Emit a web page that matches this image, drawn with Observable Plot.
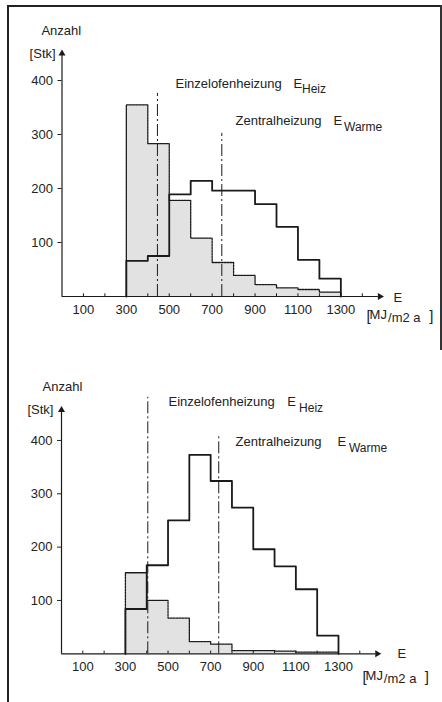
<!DOCTYPE html>
<html><head><meta charset="utf-8">
<script src="https://cdn.jsdelivr.net/npm/d3@7"></script>
<script src="https://cdn.jsdelivr.net/npm/@observablehq/plot@0.6"></script>
<style>
body{margin:0;background:#fff;}
#frame{position:absolute;left:7px;top:5px;width:436px;height:720px;border-left:2px solid #222;border-top:2px solid #222;box-sizing:border-box;}
#rside{position:absolute;left:440px;top:5px;width:2px;height:345px;background:#333;}
#top,#bottom{position:absolute;left:0;width:442px;height:351px;}
#top{top:0}#bottom{top:351px}
svg{overflow:visible}
</style></head><body>
<div id="frame"></div><div id="rside"></div>
<div id="top"></div><div id="bottom"></div>
<script>
// ---- data ----
const binStarts = [300, 400, 500, 600, 700, 800, 900, 1000, 1100, 1200];
const binWidth = 100;
// upper chart
const einzelTop   = [355, 283, 178, 108, 63, 39, 22, 16, 13, 8];
const zentralTop  = [66, 75, 189, 214, 196, 196, 171, 129, 68, 33];
// lower chart
const einzelBot   = [152, 100, 67, 23, 18, 6, 6, 5, 3, 3];
const zentralBot  = [84, 166, 250, 373, 324, 274, 196, 164, 121, 34];
// mean values (dash-dot lines)
const meanEinzel  = [445, 405];
const meanZentral = [745, 738];
const yTicks = [100, 200, 300, 400];
const xTickLabels = [100, 300, 500, 700, 900, 1100, 1300];
const xMinorTicks = [100, 200, 300, 400, 500, 600, 700, 800, 900, 1000, 1100, 1200, 1300, 1400];
const labelEinzel = "Einzelofenheizung";
const labelZentral = "Zentralheizung";
const subHeiz = "Heiz";
const subWarme = "Warme";

function steps(values) {
  const pts = [{x: binStarts[0], y: 0}];
  binStarts.forEach((s, i) => pts.push({x: s, y: values[i]}));
  pts.push({x: binStarts[binStarts.length - 1] + binWidth, y: 0});
  return pts;
}
function fillSteps(values) {
  const pts = binStarts.map((s, i) => ({x: s, y: values[i]}));
  pts.push({x: binStarts[binStarts.length - 1] + binWidth, y: values[values.length - 1]});
  return pts;
}
const ink = "#1a1a1a";
function txt(t, x, y, o = {}) {
  return Plot.text([t], {x: () => x, y: () => y, text: d => d, textAnchor: "start", lineAnchor: "bottom", fill: "#222", fontSize: o.fontSize || 13, ...o});
}

function chart(einzel, zentral, idx, L) {
  return Plot.plot({
    width: 442, height: 351,
    marginLeft: L.ml, marginRight: L.mr, marginTop: L.mt, marginBottom: L.mb,
    x: {domain: [0, 1500]},
    y: {domain: [0, 450]},
    style: {fontFamily: "'Liberation Sans', Arial, sans-serif", fontSize: "13px", color: "#222", background: "transparent", overflow: "visible"},
    marks: [
      Plot.areaY(fillSteps(einzel), {x: "x", y: "y", curve: "step-after", fill: "#e2e2e2"}),
      Plot.line(steps(einzel), {x: "x", y: "y", curve: "step-after", stroke: ink, strokeWidth: 1.3, strokeDasharray: "2,1"}),
      Plot.line(steps(zentral), {x: "x", y: "y", curve: "step-after", stroke: ink, strokeWidth: 1.8}),
      Plot.ruleX([meanEinzel[idx]], {y1: 0, y2: L.e1, stroke: ink, strokeWidth: 1, strokeDasharray: "12,3,2,3"}),
      Plot.ruleX([meanZentral[idx]], {y1: 0, y2: L.z1, stroke: ink, strokeWidth: 1, strokeDasharray: "12,3,2,3"}),
      // axes
      Plot.ruleY([0], {x1: 0, x2: 1475, stroke: ink, strokeWidth: 1.2}),
      Plot.ruleX([0], {y1: 0, y2: L.ytip - 8, stroke: ink, strokeWidth: 1.2}),
      Plot.dot([0], {x: () => 1482, y: () => 0, symbol: "triangle", rotate: 90, r: 2.6, fill: ink, stroke: null}),
      Plot.dot([0], {x: () => 0, y: () => L.ytip - 5, symbol: "triangle", r: 2.6, fill: ink, stroke: null}),
      Plot.ruleX(xMinorTicks, {y1: 0, y2: 5, stroke: ink, strokeWidth: 1}),
      Plot.axisY({ticks: yTicks, tickSize: 4, tickPadding: 5, label: null, fontSize: 13, tickFormat: d => String(d)}),
      Plot.axisX({ticks: xTickLabels, tickSize: 0, tickPadding: 8, label: null, fontSize: 13, tickFormat: d => String(d)}),
      // labels
      txt("Anzahl", L.anz[0], L.anz[1]),
      txt("[Stk]", L.stk[0], L.stk[1]),
      txt(labelEinzel, L.ein[0], L.ein[1]),
      txt("E", L.ein[2], L.ein[1]),
      txt(subHeiz, L.ein[3], L.ein[4], {fontSize: 12}),
      txt(labelZentral, L.zen[0], L.zen[1]),
      txt("E", L.zen[2], L.zen[1]),
      txt(subWarme, L.zen[3], L.zen[4], {fontSize: 12}),
      txt("E", L.eax[0], L.eax[1]),
      txt("[", L.unit[0], L.unit[1] - 3, {fontSize: 15}),
      txt("MJ", L.unit[0] + 14, L.unit[1]),
      txt("/m2 a", L.unit[0] + 100, L.unit[1] - 5),
      txt("]", L.unit[0] + 292, L.unit[1] - 3, {fontSize: 15})
    ]
  });
}

document.getElementById("top").append(chart(einzelTop, zentralTop, 0, {
  ml: 61.5, mr: 58.75, mt: 53, mb: 55,
  e1: 376, z1: 302, ytip: 455,
  anz: [-96, 485], stk: [-151, 441],
  ein: [529, 387, 1079, 1119, 376],
  zen: [809, 318, 1266, 1315, 307],
  eax: [1545, -11], unit: [1420, -42]
}));
document.getElementById("bottom").append(chart(einzelBot, zentralBot, 1, {
  ml: 61, mr: 61.4, mt: 62.3, mb: 48.7,
  e1: 481, z1: 408, ytip: 462,
  anz: [-89, 492], stk: [-160, 449],
  ein: [502, 464, 1060, 1115, 453],
  zen: [817, 389, 1295, 1349, 378],
  eax: [1577, -7], unit: [1413, -50]
}));
</script>
</body></html>
